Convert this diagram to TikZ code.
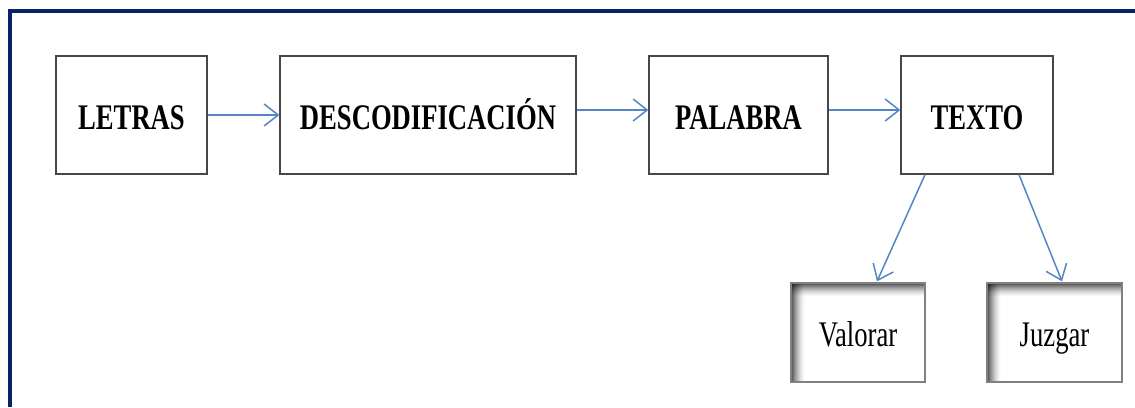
\documentclass[tikz,border=0pt]{standalone}
\usepackage{fontspec}
\setmainfont{Liberation Serif}
\usetikzlibrary{arrows.meta}
\definecolor{framenavy}{RGB}{8,36,102}
\definecolor{arrowblue}{RGB}{84,134,196}
\tikzset{
  topbox/.style={draw=black!72, line width=1.3pt, fill=white, minimum height=118pt,
    inner sep=0pt, text height=30pt, text depth=2pt, font=\fontsize{36}{40}\selectfont\bfseries},
  insetbox/.style={draw=black!50, line width=1.3pt, fill=white, minimum height=99pt,
    inner sep=0pt, text height=30pt, text depth=3pt, font=\fontsize{36}{40}\selectfont,
    path picture={
      \foreach \i in {0,...,13} {
        \pgfmathsetmacro{\op}{0.7*(1-\i/14)^1.6}
        \fill[black, fill opacity=\op] ([xshift=\i pt]path picture bounding box.north west) rectangle ([xshift=\i pt+1pt]path picture bounding box.south west);
        \fill[black, fill opacity=\op] ([yshift=-\i pt]path picture bounding box.north west) rectangle ([yshift=-\i pt-1pt]path picture bounding box.north east);
      }
    }},
  flow/.style={draw=arrowblue, line width=1.5pt, -{Straight Barb[length=14pt,width=22pt,line width=1.5pt]}},
}
\newcommand{\sq}[1]{\scalebox{0.74}[1]{#1}}
\begin{document}
\begin{tikzpicture}[x=1pt,y=-1pt]
\useasboundingbox (0,0) rectangle (1135,407);
\draw[framenavy, line width=4pt] (10,407) -- (10,10.5) -- (1135,10.5);
\node[topbox, minimum width=151pt] (letras) at (131.5,115) {\sq{LETRAS}};
\node[topbox, minimum width=296pt] (descod) at (428,115) {\sq{DESCODIFICACIÓN}};
\node[topbox, minimum width=179pt] (palabra) at (738.5,115) {\sq{PALABRA}};
\node[topbox, minimum width=152pt] (texto) at (977,115) {\sq{TEXTO}};
\node[insetbox, minimum width=134pt] (valorar) at (858,332.5) {\sq{Valorar}};
\node[insetbox, minimum width=135pt] (juzgar) at (1054.5,332.5) {\sq{Juzgar}};
\draw[flow] (letras.east) -- (descod.west);
\draw[flow] ([yshift=5pt]descod.east) -- ([yshift=5pt]palabra.west);
\draw[flow] ([yshift=5pt]palabra.east) -- ([yshift=5pt]texto.west);
\draw[flow] ([xshift=-52pt]texto.south) -- ([xshift=19pt,yshift=1pt]valorar.north);
\draw[flow] ([xshift=42pt]texto.south) -- ([xshift=7.5pt,yshift=1pt]juzgar.north);
\end{tikzpicture}
\end{document}
